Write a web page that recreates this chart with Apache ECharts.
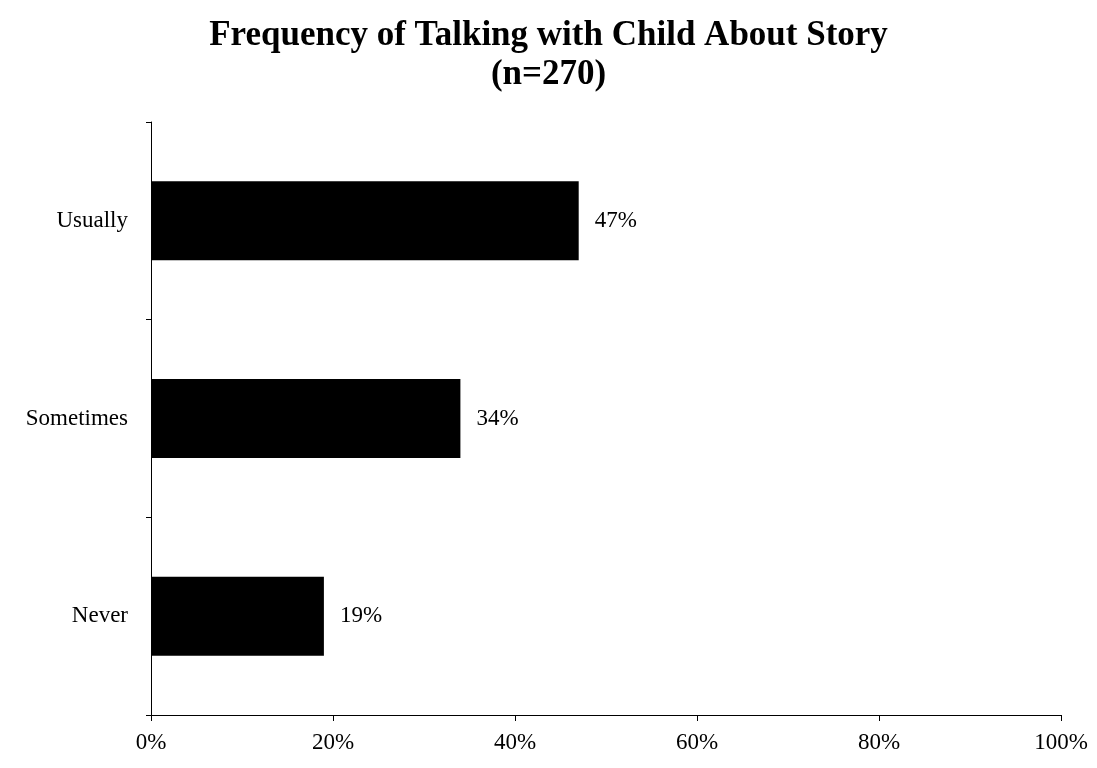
<!DOCTYPE html>
<html>
<head>
<meta charset="utf-8">
<script src="https://cdn.jsdelivr.net/npm/echarts@6/dist/echarts.min.js"></script>
<style>
  html, body { margin: 0; padding: 0; background: #fff; }
  #chart { width: 1097px; height: 768px; }
</style>
</head>
<body>
<div id="chart"></div>
<script>
// Survey responses: how often parents talk with the child about the story
const categories = ['Usually', 'Sometimes', 'Never'];
const percentages = [47, 34, 19];
const xTicks = [0, 20, 40, 60, 80, 100];

const serif = '"Liberation Serif", "Times New Roman", serif';

const chart = echarts.init(document.getElementById('chart'));
chart.setOption({
  animation: false,
  backgroundColor: '#ffffff',
  title: {
    text: 'Frequency of Talking with Child About Story\n(n=270)',
    left: 'center',
    top: 11,
    textStyle: {
      fontFamily: serif,
      fontSize: 35,
      fontWeight: 'bold',
      color: '#000',
      lineHeight: 39
    }
  },
  grid: { left: 151, right: 36, top: 122, bottom: 53, containLabel: false },
  xAxis: {
    type: 'value',
    min: xTicks[0],
    max: xTicks[xTicks.length - 1],
    interval: 20,
    axisLine: { show: true, lineStyle: { color: '#000', width: 1 } },
    axisTick: { show: true, length: 6, lineStyle: { color: '#000' } },
    splitLine: { show: false },
    axisLabel: {
      formatter: '{value}%',
      fontFamily: serif,
      fontSize: 23,
      color: '#000',
      margin: 16
    }
  },
  yAxis: {
    type: 'category',
    data: categories,
    inverse: true,
    axisLine: { show: true, lineStyle: { color: '#000', width: 1 } },
    axisTick: { show: true, length: 5, inside: false, lineStyle: { color: '#000' } },
    axisLabel: {
      fontFamily: serif,
      fontSize: 23,
      color: '#000',
      margin: 23
    }
  },
  series: [{
    type: 'bar',
    data: percentages,
    barWidth: '40%',
    itemStyle: { color: '#000' },
    label: {
      show: true,
      position: 'right',
      distance: 16,
      formatter: '{c}%',
      fontFamily: serif,
      fontSize: 23,
      color: '#000'
    }
  }]
});
</script>
</body>
</html>
